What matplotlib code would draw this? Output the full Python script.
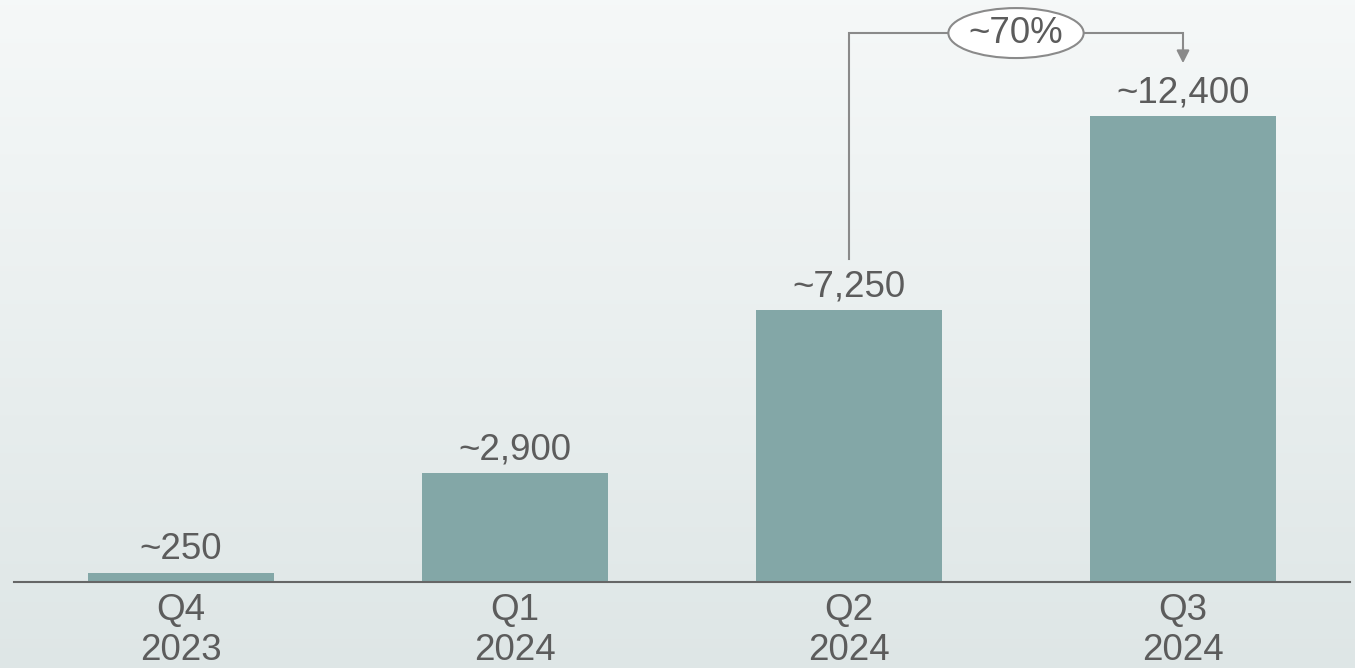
import numpy as np
import matplotlib
matplotlib.use("Agg")
import matplotlib.pyplot as plt
from matplotlib.patches import Ellipse

plt.rcParams['font.family'] = ['Liberation Sans', 'DejaVu Sans']

quarters = ["Q4\n2023", "Q1\n2024", "Q2\n2024", "Q3\n2024"]
values = [250, 2900, 7250, 12400]
labels = ["~250", "~2,900", "~7,250", "~12,400"]
growth_label = "~70%"

bar_color = "#83a7a7"
text_color = "#5c5c5c"
line_color = "#8a8a8a"
fs = 26.5

fig = plt.figure(figsize=(13.55, 6.68), dpi=100)

# gradient background
bg = fig.add_axes([0, 0, 1, 1], zorder=-10)
grad = np.linspace(0, 1, 256).reshape(-1, 1)
top = np.array([0.962, 0.973, 0.973])
bot = np.array([0.872, 0.903, 0.903])
img = top + grad[..., None] * (bot - top)
bg.imshow(img, aspect="auto", extent=[0, 1, 0, 1])
bg.axis("off")

ax = fig.add_axes([14 / 1355, 86 / 668, 1336 / 1355, 582 / 668])
ax.patch.set_alpha(0)
x = np.arange(len(values))
ax.bar(x, values, width=0.557, color=bar_color, zorder=2)
ax.set_xlim(-0.5, 3.5)
ax.set_ylim(0, 15490)

for xi, v, lab in zip(x, values, labels):
    ax.annotate(lab, (xi, v), xytext=(0, 9.5), textcoords="offset points",
                ha="center", va="baseline", fontsize=fs, color=text_color)

for s in ["top", "left", "right"]:
    ax.spines[s].set_visible(False)
ax.spines["bottom"].set_color("#666666")
ax.spines["bottom"].set_linewidth(1.5)
ax.set_yticks([])
ax.set_xticks(x)
ax.set_xticklabels(quarters, fontsize=fs, color=text_color, linespacing=1.17)
ax.tick_params(axis="x", length=0, pad=8)

# growth bracket Q2 -> Q3
y_start = values[2] + 1350
y_top = values[3] + 2210
y_tip = values[3] + 1410
ax.plot([2, 2, 3, 3], [y_start, y_top, y_top, y_tip + 300], color=line_color,
        lw=1.5, solid_joinstyle="miter", zorder=3, clip_on=False)
ax.annotate("", xy=(3, y_tip), xytext=(3, y_tip + 420),
            arrowprops=dict(arrowstyle="-|>,head_length=0.75,head_width=0.38",
                            color=line_color, lw=1.5, shrinkA=0, shrinkB=0))
ax.add_patch(Ellipse((2.5, y_top), 0.405, 1330, facecolor="white",
                     edgecolor=line_color, lw=1.5, zorder=4, clip_on=False))
ax.text(2.5, y_top, growth_label, ha="center", va="center", fontsize=fs,
        color=text_color, zorder=5)

fig.savefig("out.png", dpi=100)
